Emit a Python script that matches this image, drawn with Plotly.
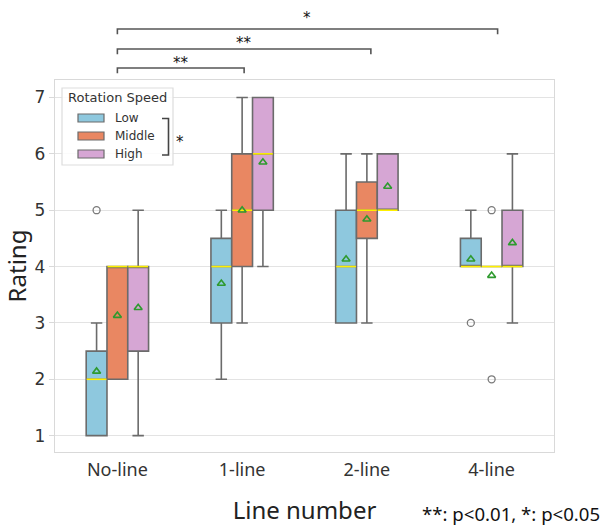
import plotly.graph_objects as go

# ---------------- data ----------------
categories = ["No-line", "1-line", "2-line", "4-line"]
speeds = ["Low", "Middle", "High"]
colors = ["#8EC8DE", "#E98762", "#D6A6D4"]

# rows: Low, Middle, High ; columns: categories
q1_vals = [[1, 3, 3, 4], [2, 4, 4.5, 4], [2.5, 5, 5, 4]]
median_vals = [[2, 4, 4, 4], [4, 5, 5, 4], [4, 6, 5, 4]]
q3_vals = [[2.5, 4.5, 5, 4.5], [4, 6, 5.5, 4], [4, 7, 6, 5]]
lower_vals = [[1, 2, 3, 4], [2, 3, 3, 4], [1, 4, 5, 3]]
upper_vals = [[3, 5, 6, 5], [4, 7, 6, 4], [5, 7, 6, 6]]
mean_vals = [[2.14, 3.70, 4.13, 4.13], [3.13, 5.00, 4.84, 3.84], [3.27, 5.85, 5.42, 4.42]]
# outliers: (category index, value)
outlier_vals = [[(0, 5), (3, 3)], [(3, 5), (3, 2)], []]

# significance brackets between categories (i, j, label)
comparisons = [(0, 1, "**"), (0, 2, "**"), (0, 3, "*")]
yticks = [1, 2, 3, 4, 5, 6, 7]

# ---------------- layout constants ----------------
W, H = 603, 526
L, R, T, B = 55, 49, 80, 74
PW, PH = W - L - R, H - T - B
XMIN, XMAX = -0.5, 3.5
YMIN, YMAX = 0.71, 7.31
box_w = 0.5 / 3
offsets = [-box_w, 0.0, box_w]
BOX_LINE = "#6b6b6b"


def px(x):
    return (x - L) / PW


def py(y):
    return (T + PH - y) / PH


def xpaper(v):
    return (v - XMIN) / (XMAX - XMIN)


fig = go.Figure()

for k, s in enumerate(speeds):
    xs = [i + offsets[k] for i in range(len(categories))]
    fig.add_trace(go.Box(
        x=xs, q1=q1_vals[k], median=median_vals[k], q3=q3_vals[k],
        lowerfence=lower_vals[k], upperfence=upper_vals[k],
        width=box_w, whiskerwidth=0.55, boxpoints=False,
        fillcolor=colors[k], line=dict(color=BOX_LINE, width=1.6),
        name=s, showlegend=False, hoverinfo="skip",
    ))

for k, s in enumerate(speeds):
    xs = [i + offsets[k] for i in range(len(categories))]
    mx, my = [], []
    for x, m in zip(xs, median_vals[k]):
        mx += [x - box_w / 2 + 0.004, x + box_w / 2 - 0.004, None]
        my += [m, m, None]
    fig.add_trace(go.Scatter(x=mx, y=my, mode="lines",
                             line=dict(color="#FFF000", width=1.6),
                             showlegend=False, hoverinfo="skip"))
    fig.add_trace(go.Scatter(x=xs, y=mean_vals[k], mode="markers",
                             marker=dict(symbol="triangle-up-open", size=7,
                                         color="#2E9A2E", line=dict(width=1.6)),
                             showlegend=False, hoverinfo="skip"))
    if outlier_vals[k]:
        fig.add_trace(go.Scatter(
            x=[ci + offsets[k] for ci, _ in outlier_vals[k]],
            y=[v for _, v in outlier_vals[k]], mode="markers",
            marker=dict(symbol="circle-open", size=7, color="#7a7a7a",
                        line=dict(width=1.3)),
            showlegend=False, hoverinfo="skip"))

shapes = []
annotations = []

# significance brackets above the plot
bracket_y = [py(68), py(49), py(29)]
tick_len = 0.014
star_y = [py(63), py(43), py(18)]
for n, (i, j, lab) in enumerate(comparisons):
    x0, x1 = xpaper(i), xpaper(j) + 0.004 * (n + 1)
    yb = bracket_y[n]
    shapes.append(dict(type="path", xref="paper", yref="paper",
                       path=f"M{x0},{yb - tick_len} L{x0},{yb} L{x1},{yb} L{x1},{yb - tick_len}",
                       line=dict(color="#555555", width=1.6)))
    annotations.append(dict(x=(x0 + x1) / 2, y=star_y[n], xref="paper", yref="paper",
                            text=lab, showarrow=False, xanchor="center", yanchor="middle",
                            font=dict(family="DejaVu Sans", size=15, color="#111")))

# custom legend
shapes.append(dict(type="rect", xref="paper", yref="paper", layer="above",
                   x0=px(62), x1=px(173), y0=py(165), y1=py(88),
                   fillcolor="rgba(255,255,255,0.85)", line=dict(color="#DDDDDD", width=1.2)))
annotations.append(dict(x=px(66), y=py(98), xref="paper", yref="paper", text="Rotation Speed",
                        showarrow=False, xanchor="left", yanchor="middle",
                        font=dict(family="DejaVu Sans", size=13, color="#333")))
item_y = [118, 136, 154]
for k, s in enumerate(speeds):
    yc = item_y[k]
    shapes.append(dict(type="rect", xref="paper", yref="paper", layer="above",
                       x0=px(78), x1=px(104), y0=py(yc + 4), y1=py(yc - 4),
                       fillcolor=colors[k], line=dict(color=BOX_LINE, width=1.2)))
    annotations.append(dict(x=px(113), y=py(yc), xref="paper", yref="paper", text=s,
                            showarrow=False, xanchor="left", yanchor="middle",
                            font=dict(family="DejaVu Sans", size=12, color="#333")))
# legend bracket
shapes.append(dict(type="path", xref="paper", yref="paper", layer="above",
                   path=f"M{px(162)},{py(118.5)} L{px(168.5)},{py(118.5)} L{px(168.5)},{py(155)} L{px(162)},{py(155)}",
                   line=dict(color="#444444", width=1.6)))
annotations.append(dict(x=px(179.5), y=py(142), xref="paper", yref="paper", text="*",
                        showarrow=False, xanchor="center", yanchor="middle",
                        font=dict(family="DejaVu Sans", size=15, color="#111")))

# p-value note
annotations.append(dict(x=px(602), y=py(513), xref="paper", yref="paper",
                        text="**: p<0.01, *: p<0.05", showarrow=False,
                        xanchor="right", yanchor="middle",
                        font=dict(family="Noto Sans", size=18.6, color="#111")))

fig.update_layout(
    width=W, height=H,
    margin=dict(l=L, r=R, t=T, b=B, pad=0, autoexpand=False),
    paper_bgcolor="white", plot_bgcolor="white",
    shapes=shapes, annotations=annotations,
    showlegend=False,
)
fig.update_xaxes(
    range=[XMIN, XMAX], tickvals=list(range(len(categories))), ticktext=categories,
    showgrid=False, zeroline=False, automargin=False,
    showline=True, mirror=True, linecolor="#D9D9D9", linewidth=1.3,
    ticks="", ticklabelstandoff=1,
    tickfont=dict(family="Noto Sans", size=18, color="#333"),
    title=dict(text="Line number", font=dict(family="Noto Sans", size=24, color="#222"), standoff=23),
)
fig.update_yaxes(
    range=[YMIN, YMAX], tickvals=yticks,
    showgrid=True, gridcolor="#E3E3E3", gridwidth=1.3, zeroline=False, automargin=False,
    showline=True, mirror=True, linecolor="#D9D9D9", linewidth=1.3,
    ticks="outside", ticklen=5, tickcolor="#D9D9D9",
    tickfont=dict(family="DejaVu Sans", size=17, color="#333"),
    title=dict(text="Rating", font=dict(family="Noto Sans", size=24, color="#222"), standoff=4),
)

fig.write_html("out.html", config={"displayModeBar": False},
               post_script="document.body.style.margin='0';document.body.style.overflow='hidden';")
